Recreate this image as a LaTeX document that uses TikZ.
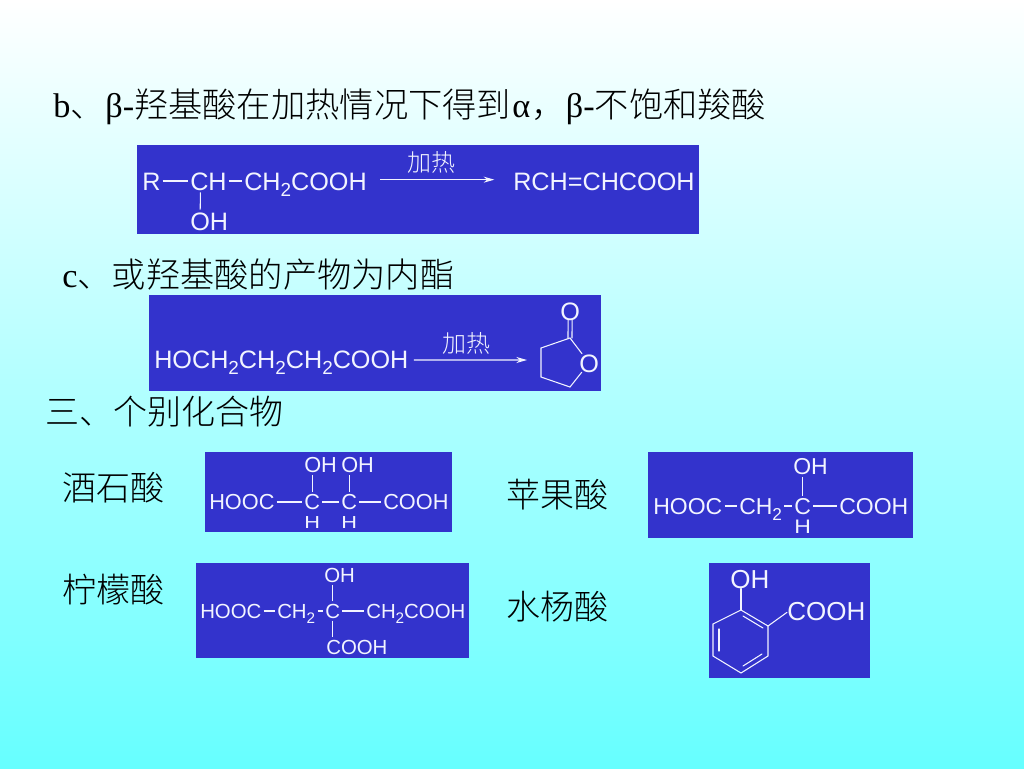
\documentclass[tikz,border=0pt]{standalone}
\usepackage{fontspec}
\setmainfont{Liberation Serif}
\setsansfont{Liberation Sans}
\newfontfamily\cjk{Noto Sans CJK SC Light}
\usetikzlibrary{arrows.meta}
\definecolor{panel}{HTML}{3333CC}
\definecolor{ink}{HTML}{F2F4FF}
\definecolor{bottomcyan}{HTML}{66FFFF}
\newcommand\subtwo{\raisebox{-.26em}{\scalebox{.75}{2}}}
\tikzset{
  x=0.75pt,y=-0.75pt,
  panelbox/.style={fill=panel},
  atom/.style={inner sep=0pt,text=ink,anchor=west,font=\sffamily\fontsize{#1}{#1}\selectfont,text height=0.716*#1,text depth=0pt},
  atom/.default=18.9pt,
  atomb/.style={atom=16.3pt},
  atomc/.style={atom=17.25pt},
  atomd/.style={atom=15.3pt},
  atome/.style={atom=19.5pt},
  heat/.style={inner sep=0pt,text=ink,font=\cjk\fontsize{18pt}{18pt}\selectfont},
  headline/.style={inner sep=0pt,anchor=base west,text=black,font=\fontsize{25.7pt}{25.7pt}\selectfont},
  cjkline/.style={headline,font=\cjk\fontsize{25.5pt}{25.5pt}\selectfont},
  bond/.style={draw=ink,line width=0.8pt,shorten >=1.5pt,shorten <=1.5pt},
  ringbond/.style={draw=ink,line width=0.8pt,line cap=round},
  rarrow/.style={draw=ink,line width=0.9pt,-{Stealth[length=8pt,width=4.5pt]}},
}
\begin{document}
\begin{tikzpicture}
\useasboundingbox (0,0) rectangle (1024,768);
\shade[top color=white,bottom color=bottomcyan] (0,0) rectangle (1024,768);

% headings
\node[headline] (t1) at (53,117) {b{\cjk 、}\hspace{0.5pt}β-{\cjk 羟基酸在加热情况下得到}\hspace{1pt}α\hspace{1pt}{\cjk ，}β-{\cjk 不饱和羧酸}};
\node[headline] (t2) at (62,287) {c{\cjk 、或羟基酸的产物为内酯}};
\node[cjkline] (t3) at (45,424) {三、个别化合物};
\node[cjkline] (n1) at (62,500) {酒石酸};
\node[cjkline] (n2) at (506,507) {苹果酸};
\node[cjkline] (n3) at (62,602) {柠檬酸};
\node[cjkline] (n4) at (506,619) {水杨酸};

% panels
\fill[panelbox] (137,145) rectangle (699,234);
\fill[panelbox] (149,295) rectangle (601,391);
\fill[panelbox] (205,452) rectangle (452,532);
\fill[panelbox] (648,452) rectangle (913,538);
\fill[panelbox] (196,563) rectangle (469,658);
\fill[panelbox] (709,563) rectangle (870,678);

% reaction 1
\node[atom] (a1) at (142,181) {R};
\node[atom] (a2) at (190,181) {CH};
\node[atom] (a3) at (244,181) {CH\subtwo COOH};
\node[atom] (a4) at (190,221) {OH};
\node[atom] (a5) at (513,181) {RCH=CHCOOH};
\node[heat] (h1) at (431,162) {加热};
\draw[bond] (a1) -- (a2);
\draw[bond] (a2) -- (a3);
\draw[bond] ([xshift=-6pt]a2.south) -- ([xshift=-6.75pt]a4.north);
\draw[rarrow] ([xshift=10pt,yshift=1pt]a3.east) -- ([xshift=-14pt,yshift=1pt]a5.west);

% reaction 2
\node[atom] (b1) at (154,359) {HOCH\subtwo CH\subtwo CH\subtwo COOH};
\node[heat] (h2) at (466,343) {加热};
\node[atom] (b2) at (560,311) {O};
\node[atom] (b3) at (579,363) {O};
\coordinate (r1) at (570,338);
\coordinate (r2) at (541,348);
\coordinate (r3) at (541,377);
\coordinate (r4) at (570,387);
\draw[rarrow] ([xshift=4pt,yshift=-0.7pt]b1.east) -- (527,360);
\draw[ringbond] ([xshift=-1.5pt]b2.south) -- ([xshift=-1.5pt]r1);
\draw[ringbond] ([xshift=1.5pt]b2.south) -- ([xshift=1.5pt]r1);
\draw[ringbond] (r1) -- (r2) -- (r3) -- (r4);
\draw[ringbond] (r1) -- (b3);
\draw[ringbond] (r4) -- (b3);

% tartaric
\node[atomb] (c1) at (304,465) {OH};
\node[atomb] (c2) at (341,465) {OH};
\node[atomb] (c3) at (209,502) {HOOC};
\node[atomb] (c4) at (304,502) {C};
\node[atomb] (c5) at (341,502) {C};
\node[atomb] (c6) at (383,502) {COOH};
\node[atomb] (c7) at (304,520.5) {\scalebox{1}[.8]{H}};
\node[atomb] (c8) at (341,520.5) {\scalebox{1}[.8]{H}};
\draw[bond] (c3) -- (c4);
\draw[bond] (c4) -- (c5);
\draw[bond] (c5) -- (c6);
\draw[bond] (c4) -- (c4 |- c1.south);
\draw[bond] (c5) -- (c5 |- c2.south);

% malic
\node[atomc] (d1) at (793,466) {OH};
\node[atomc] (d2) at (653,506) {HOOC};
\node[atomc] (d3) at (739,506) {CH\subtwo};
\node[atomc] (d4) at (794,506) {C};
\node[atomc] (d5) at (839,506) {COOH};
\node[atomc] (d6) at (794,525.5) {\scalebox{1}[.85]{H}};
\draw[bond] (d2) -- (d3);
\draw[bond] (d3) -- (d4);
\draw[bond] (d4) -- (d5);
\draw[bond] (d4) -- (d4 |- d1.south);

% citric
\node[atomd] (e1) at (324,575) {OH};
\node[atomd] (e2) at (200,611) {HOOC};
\node[atomd] (e3) at (277,611) {CH\subtwo};
\node[atomd] (e4) at (325,611) {C};
\node[atomd] (e5) at (366,611) {CH\subtwo COOH};
\node[atomd] (e6) at (326,647) {COOH};
\draw[bond] (e2) -- (e3);
\draw[bond] (e3) -- (e4);
\draw[bond] (e4) -- (e5);
\draw[bond] (e4) -- (e4 |- e1.south);
\draw[bond] (e4) -- (e4 |- e6.north);

% salicylic
\node[atome] (f1) at (730,579) {OH};
\node[atome] (f2) at (787,611) {COOH};
\coordinate (s1) at (741,610);
\coordinate (s2) at (768,626);
\coordinate (s3) at (768,656);
\coordinate (s4) at (741,673);
\coordinate (s5) at (713,656);
\coordinate (s6) at (713,624);
\draw[ringbond] (s1) -- (s2) -- (s3) -- (s4) -- (s5) -- (s6) -- cycle;
\draw[ringbond] (s1) -- (s1 |- f1.south);
\draw[ringbond] (s2) -- ([yshift=-1pt]f2.west);
\draw[ringbond] (743,616) -- (763,628);
\draw[ringbond] (762,654) -- (743,666);
\draw[ringbond] (719,651) -- (719,629);
\end{tikzpicture}
\end{document}
